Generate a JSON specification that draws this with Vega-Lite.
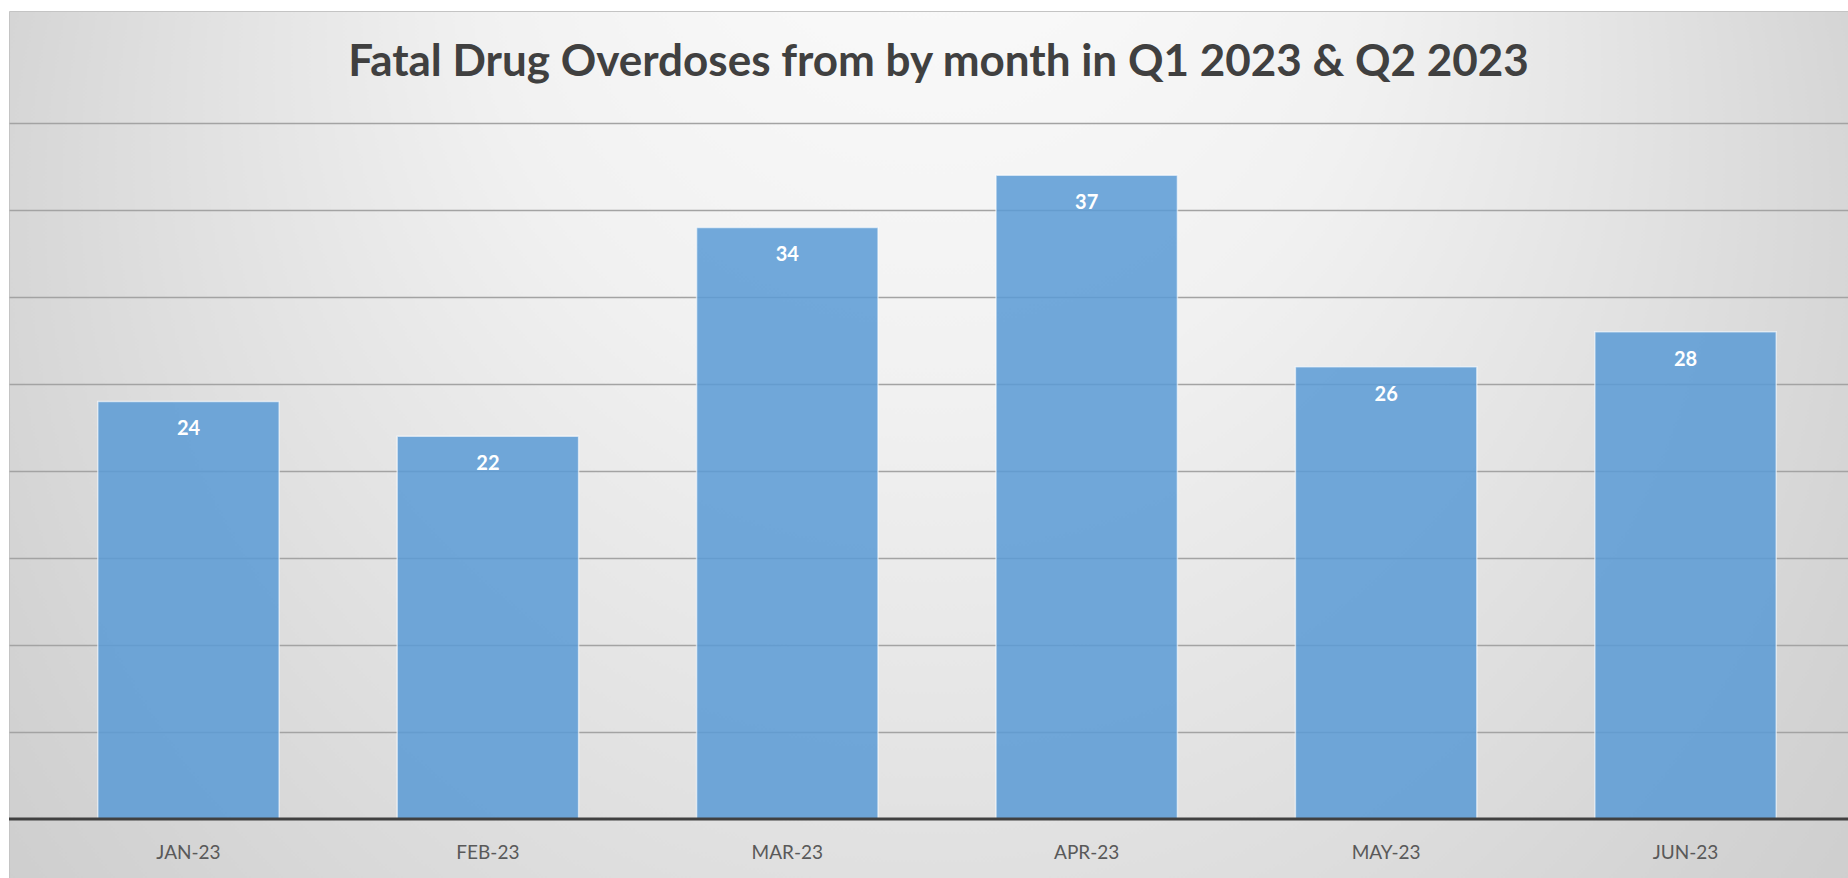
{
  "$schema": "https://vega.github.io/schema/vega-lite/v6.json",
  "width": 1839,
  "height": 867,
  "autosize": {"type": "none"},
  "padding": {"left": 9, "top": 11, "right": 0, "bottom": 0},
  "background": "#ffffff",
  "title": {
    "text": "Fatal Drug Overdoses from by month in Q1 2023 & Q2 2023",
    "font": "Lato",
    "fontSize": 44,
    "fontWeight": "bold",
    "color": "#404040",
    "anchor": "middle",
    "offset": -74,
    "dx": 10
  },
  "view": {
    "fill": {
      "gradient": "radial",
      "x1": 0.5, "y1": 0.08, "r1": 0,
      "x2": 0.5, "y2": 0.5, "r2": 0.7,
      "stops": [
        {"offset": 0, "color": "#ffffff"},
        {"offset": 0.35, "color": "#f1f1f1"},
        {"offset": 0.76, "color": "#d3d3d3"},
        {"offset": 1, "color": "#c4c4c4"}
      ]
    },
    "stroke": "#c4c4c4",
    "strokeWidth": 1
  },
  "datasets": {
    "months": [
      {"month": "JAN-23", "deaths": 24},
      {"month": "FEB-23", "deaths": 22},
      {"month": "MAR-23", "deaths": 34},
      {"month": "APR-23", "deaths": 37},
      {"month": "MAY-23", "deaths": 26},
      {"month": "JUN-23", "deaths": 28}
    ],
    "base": [{"value": 0}]
  },
  "layer": [
    {
      "data": {"name": "months"},
      "mark": {
        "type": "bar",
        "fill": "#5b9bd5",
        "fillOpacity": 0.86,
        "stroke": "#ffffff",
        "strokeOpacity": 0.6,
        "strokeWidth": 1.5
      },
      "encoding": {
        "x": {
          "field": "month",
          "type": "ordinal",
          "sort": null,
          "scale": {
            "domain": ["JAN-23", "FEB-23", "MAR-23", "APR-23", "MAY-23", "JUN-23"],
            "paddingInner": 0.394,
            "paddingOuter": 0.268,
            "align": 0.553
          },
          "axis": {
            "orient": "bottom",
            "offset": -59,
            "domain": false,
            "ticks": false,
            "grid": false,
            "labelAngle": 0,
            "labelFont": "Lato",
            "labelFontSize": 19,
            "labelColor": "#595959",
            "labelPadding": 24,
            "title": null
          }
        },
        "y": {
          "field": "deaths",
          "type": "quantitative",
          "scale": {"domain": [-3.39, 46.44], "nice": false, "zero": false},
          "axis": {
            "grid": true,
            "values": [5, 10, 15, 20, 25, 30, 35, 40],
            "gridColor": "#a3a3a3",
            "gridWidth": 1.5,
            "labels": false,
            "ticks": false,
            "domain": false,
            "title": null
          }
        }
      }
    },
    {
      "data": {"name": "base"},
      "mark": {"type": "rule", "color": "#404040", "strokeWidth": 3},
      "encoding": {
        "y": {"field": "value", "type": "quantitative"}
      }
    },
    {
      "data": {"name": "months"},
      "mark": {
        "type": "text",
        "font": "Lato",
        "fontSize": 20,
        "fontWeight": "bold",
        "color": "#ffffff",
        "baseline": "alphabetic",
        "dy": 34
      },
      "encoding": {
        "x": {"field": "month", "type": "ordinal", "sort": null},
        "y": {"field": "deaths", "type": "quantitative"},
        "text": {"field": "deaths", "type": "quantitative"}
      }
    }
  ]
}
